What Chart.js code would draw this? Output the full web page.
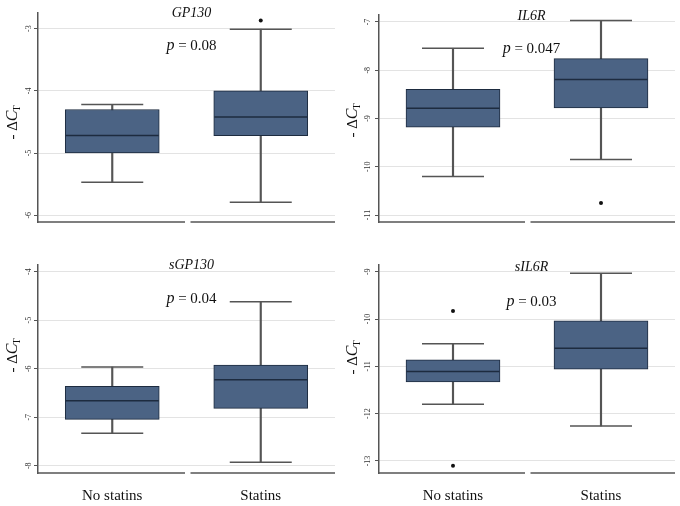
<!DOCTYPE html>
<html>
<head>
<meta charset="utf-8">
<script src="https://cdn.jsdelivr.net/npm/chart.js@4"></script>
<style>
  body { margin: 0; background: #fff; }
  #wrap { position: relative; width: 680px; height: 506px; }
  canvas { position: absolute; }
</style>
</head>
<body>
<div id="wrap">
  <canvas id="c1" width="340" height="240" style="left:0;top:0"></canvas>
  <canvas id="c2" width="340" height="240" style="left:340px;top:0"></canvas>
  <canvas id="c3" width="340" height="266" style="left:0;top:240px"></canvas>
  <canvas id="c4" width="340" height="266" style="left:340px;top:240px"></canvas>
</div>
<script>
/* ---------------------------------
   DATA
--------------------------------- */
const groups = ["No statins", "Statins"];
const titles = ["GP130", "IL6R", "sGP130", "sIL6R"];
const pValues = ["0.08", "0.047", "0.04", "0.03"];

// per group: [lower whisker, upper whisker], [q1, q3], median, outliers
const gp130Whiskers = [[-5.47, -4.22], [-5.79, -3.01]];
const gp130Boxes = [[-5.00, -4.30], [-4.72, -4.00]];
const gp130Medians = [-4.72, -4.42];
const gp130Outliers = [[], [-2.87]];
const gp130Ticks = [-3, -4, -5, -6];

const il6rWhiskers = [[-10.20, -7.545], [-9.85, -6.97]];
const il6rBoxes = [[-9.18, -8.395], [-8.78, -7.76]];
const il6rMedians = [-8.79, -8.19];
const il6rOutliers = [[], [-10.75]];
const il6rTicks = [-7, -8, -9, -10, -11];

const sgp130Whiskers = [[-7.33, -5.966], [-7.93, -4.62]];
const sgp130Boxes = [[-7.045, -6.364], [-6.818, -5.925]];
const sgp130Medians = [-6.66, -6.227];
const sgp130Outliers = [[], []];
const sgp130Ticks = [-4, -5, -6, -7, -8];

const sil6rWhiskers = [[-11.80, -10.52], [-12.26, -9.035]];
const sil6rBoxes = [[-11.33, -10.86], [-11.06, -10.04]];
const sil6rMedians = [-11.11, -10.62];
const sil6rOutliers = [[-9.83, -13.10], []];
const sil6rTicks = [-9, -10, -11, -12, -13];

/* ---------------------------------
   PANEL LAYOUT
--------------------------------- */
const panels = [
  { id: "c1", whiskers: gp130Whiskers, boxes: gp130Boxes, medians: gp130Medians, outliers: gp130Outliers, ticks: gp130Ticks,
    min: -6.108, max: -2.75, top: 13, axisW: 38, bottomH: 18, xLabels: false, titleY: 13, pY: 46, yTitleY: 122 },
  { id: "c2", whiskers: il6rWhiskers, boxes: il6rBoxes, medians: il6rMedians, outliers: il6rOutliers, ticks: il6rTicks,
    min: -11.145, max: -6.855, top: 15, axisW: 39, bottomH: 18, xLabels: false, titleY: 16, pY: 49, yTitleY: 120 },
  { id: "c3", whiskers: sgp130Whiskers, boxes: sgp130Boxes, medians: sgp130Medians, outliers: sgp130Outliers, ticks: sgp130Ticks,
    min: -8.15, max: -3.862, top: 25, axisW: 38, bottomH: 33, xLabels: true, titleY: 25, pY: 59, yTitleY: 115 },
  { id: "c4", whiskers: sil6rWhiskers, boxes: sil6rBoxes, medians: sil6rMedians, outliers: sil6rOutliers, ticks: sil6rTicks,
    min: -13.254, max: -8.858, top: 25, axisW: 39, bottomH: 33, xLabels: true, titleY: 27, pY: 62, yTitleY: 117 }
];

const BOX = "#4b6384";
const EDGE = "#1d2b3f";
const WHISK = "#555";
const AXIS = "#555";
const SERIF = "'Liberation Serif', 'Times New Roman', serif";

/* ---------------------------------
   DECORATIONS (titles, p values, axis title)
--------------------------------- */
const decor = {
  id: "decor",
  afterDraw(chart) {
    const o = chart.options.plugins.decor;
    const ctx = chart.ctx;
    const a = chart.chartArea;
    ctx.save();

    // x axis with the small gap between the two groups
    ctx.strokeStyle = AXIS;
    ctx.lineWidth = 1.5;
    ctx.beginPath();
    ctx.moveTo(a.left, a.bottom);
    ctx.lineTo(185, a.bottom);
    ctx.moveTo(190.5, a.bottom);
    ctx.lineTo(a.right, a.bottom);
    ctx.stroke();

    ctx.fillStyle = "#111";
    ctx.textBaseline = "middle";

    // panel title
    ctx.textAlign = "center";
    ctx.font = "italic 14px " + SERIF;
    ctx.fillText(o.title, 191.5, o.titleY);

    // p value
    ctx.textAlign = "left";
    ctx.font = "italic 16px " + SERIF;
    const pw = ctx.measureText("p").width;
    ctx.font = "15px " + SERIF;
    const rest = " = " + o.p;
    const rw = ctx.measureText(rest).width;
    let x = 191.5 - (pw + rw) / 2;
    ctx.font = "italic 16px " + SERIF;
    ctx.fillText("p", x, o.pY);
    ctx.font = "15px " + SERIF;
    ctx.fillText(rest, x + pw, o.pY);

    // y axis title: - ΔC_T
    ctx.translate(13, o.yTitleY);
    ctx.rotate(-Math.PI / 2);
    ctx.font = "15px " + SERIF;
    const w1 = ctx.measureText("- \u0394").width;
    ctx.font = "italic 16px " + SERIF;
    const w2 = ctx.measureText("C").width;
    ctx.font = "10px " + SERIF;
    const w3 = ctx.measureText("T").width;
    x = -(w1 + w2 + w3) / 2;
    ctx.font = "15px " + SERIF;
    ctx.fillText("- \u0394", x, 0);
    ctx.font = "italic 16px " + SERIF;
    ctx.fillText("C", x + w1, 0);
    ctx.font = "10px " + SERIF;
    ctx.fillText("T", x + w1 + w2 - 1, 4);
    ctx.restore();
  }
};

/* ---------------------------------
   RENDERING
--------------------------------- */
function renderPanel(p, i) {
  const caps = [];
  const outs = [];
  groups.forEach((g, k) => {
    p.whiskers[k].forEach((v) => caps.push({ x: g, y: v }));
    p.outliers[k].forEach((v) => outs.push({ x: g, y: v }));
  });

  new Chart(document.getElementById(p.id), {
    type: "bar",
    data: {
      labels: groups,
      datasets: [
        {
          label: "whisker",
          data: p.whiskers,
          backgroundColor: WHISK,
          barThickness: 1.5,
          grouped: false,
          order: 4
        },
        {
          label: "box",
          data: p.boxes,
          backgroundColor: BOX,
          borderColor: EDGE,
          borderWidth: 1,
          borderSkipped: false,
          barThickness: 94,
          grouped: false,
          order: 3
        },
        {
          type: "line",
          label: "caps",
          data: caps,
          showLine: false,
          pointStyle: "line",
          pointRadius: 31,
          borderColor: WHISK,
          borderWidth: 1.5,
          order: 2
        },
        {
          type: "line",
          label: "median",
          data: p.medians,
          showLine: false,
          pointStyle: "line",
          pointRadius: 46.5,
          borderColor: EDGE,
          borderWidth: 1.5,
          order: 1
        },
        {
          type: "line",
          label: "outliers",
          data: outs,
          showLine: false,
          pointStyle: "circle",
          pointRadius: 2,
          backgroundColor: "#111",
          borderColor: "#111",
          borderWidth: 0,
          order: 0
        }
      ]
    },
    options: {
      responsive: false,
      animation: false,
      events: [],
      layout: { autoPadding: false, padding: { top: p.top, right: 5, bottom: 0, left: 0 } },
      plugins: {
        legend: { display: false },
        tooltip: { enabled: false },
        decor: { title: titles[i], p: pValues[i], titleY: p.titleY, pY: p.pY, yTitleY: p.yTitleY }
      },
      scales: {
        x: {
          type: "category",
          grid: { display: false, drawTicks: false },
          border: { display: false },
          ticks: {
            display: p.xLabels,
            color: "#111",
            padding: 14,
            font: { family: SERIF, size: 15 }
          },
          afterFit: (s) => { s.height = p.bottomH; }
        },
        y: {
          min: p.min,
          max: p.max,
          afterBuildTicks: (s) => { s.ticks = p.ticks.map((v) => ({ value: v })); },
          grid: { color: "#e3e3e3", lineWidth: 1, tickLength: 4, tickColor: AXIS, tickWidth: 1 },
          border: { color: AXIS, width: 1.5 },
          ticks: {
            minRotation: 90,
            maxRotation: 90,
            crossAlign: "center",
            padding: 2,
            color: "#333",
            font: { family: SERIF, size: 8 }
          },
          afterFit: (s) => { s.width = p.axisW; }
        }
      }
    },
    plugins: [decor]
  });
}

panels.forEach(renderPanel);
</script>
</body>
</html>
